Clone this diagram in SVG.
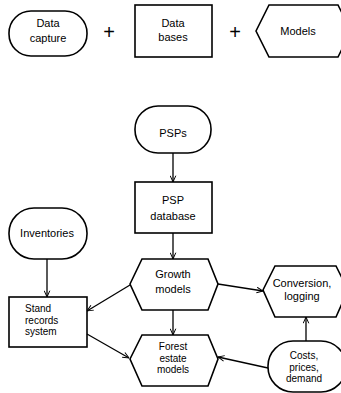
<svg xmlns="http://www.w3.org/2000/svg" width="341" height="393" viewBox="0 0 341 393">
<style>
.s{fill:#fff;stroke:#000;stroke-width:1.6}
.t{font-family:"Liberation Sans",Arial,sans-serif;font-size:11px;fill:#000;text-anchor:middle}
.m{font-size:10px}
.l{text-anchor:start}
.c{fill:none;stroke:#000;stroke-width:1.3}
.p{font-family:"Liberation Sans",Arial,sans-serif;font-size:20px;fill:#000;text-anchor:middle}
</style>
<defs>
<marker id="a" viewBox="0 0 10 10" refX="10" refY="5" markerWidth="7" markerHeight="7" orient="auto" markerUnits="userSpaceOnUse">
<path d="M1,1 L10,5 L1,9" fill="none" stroke="#000" stroke-width="1.4"/>
</marker>
</defs>
<rect width="341" height="393" fill="#fff"/>
<g id="legend-capture">
<rect class="s" x="9" y="11" width="78" height="45" rx="22"/>
<text class="t" x="48" y="27">Data</text>
<text class="t" x="48" y="42">capture</text>
</g>
<text class="p" x="109" y="39">+</text>
<g id="legend-bases">
<rect class="s" x="135" y="5" width="77" height="52"/>
<text class="t" x="173" y="27">Data</text>
<text class="t" x="173" y="41">bases</text>
</g>
<text class="p" x="235" y="39">+</text>
<g id="legend-models">
<polygon class="s" points="256,31 269,5 338,5 351,31 338,57 269,57"/>
<text class="t" x="298" y="35">Models</text>
</g>
<g id="psps">
<rect class="s" x="135" y="106" width="76" height="47" rx="23"/>
<text class="t" x="173" y="137">PSPs</text>
</g>
<g id="psp-database">
<rect class="s" x="135" y="182" width="77" height="51"/>
<text class="t" x="173" y="204">PSP</text>
<text class="t" x="173" y="220">database</text>
</g>
<g id="inventories">
<rect class="s" x="9" y="208" width="78" height="51" rx="25"/>
<text class="t" x="47" y="237">Inventories</text>
</g>
<g id="growth-models">
<polygon class="s" points="130,284 142,259 208,259 218,284 208,310 142,310"/>
<text class="t" x="173" y="278">Growth</text>
<text class="t" x="173" y="293">models</text>
</g>
<g id="conversion">
<polygon class="s" points="263,290 275,266 336,266 348,290 336,317 275,317"/>
<text class="t" x="302" y="287">Conversion,</text>
<text class="t" x="302" y="300">logging</text>
</g>
<g id="stand-records">
<rect class="s" x="9" y="297" width="78" height="50"/>
<text class="t m l" x="25" y="312">Stand</text>
<text class="t m l" x="25" y="323.5">records</text>
<text class="t m l" x="25" y="335">system</text>
</g>
<g id="forest-estate">
<polygon class="s" points="130,359 142,335 208,335 218,359 208,386 142,386"/>
<text class="t m" x="173" y="350">Forest</text>
<text class="t m" x="173" y="361.5">estate</text>
<text class="t m" x="173" y="373">models</text>
</g>
<g id="costs">
<rect class="s" x="268" y="341" width="78" height="51" rx="25"/>
<text class="t m" x="304" y="359">Costs,</text>
<text class="t m" x="304" y="370.5">prices,</text>
<text class="t m" x="304" y="382">demand</text>
</g>
<g id="connectors">
<line class="c" x1="173" y1="153" x2="173" y2="182" marker-end="url(#a)"/>
<line class="c" x1="173" y1="233" x2="173" y2="259" marker-end="url(#a)"/>
<line class="c" x1="47" y1="259" x2="47" y2="297" marker-end="url(#a)"/>
<line class="c" x1="130" y1="285" x2="87" y2="311" marker-end="url(#a)"/>
<line class="c" x1="218" y1="284" x2="263" y2="291" marker-end="url(#a)"/>
<line class="c" x1="173" y1="310" x2="173" y2="335" marker-end="url(#a)"/>
<line class="c" x1="87" y1="334" x2="129" y2="358" marker-end="url(#a)"/>
<line class="c" x1="268" y1="368" x2="218" y2="357" marker-end="url(#a)"/>
<line class="c" x1="306" y1="341" x2="306" y2="317" marker-end="url(#a)"/>
</g>
</svg>
